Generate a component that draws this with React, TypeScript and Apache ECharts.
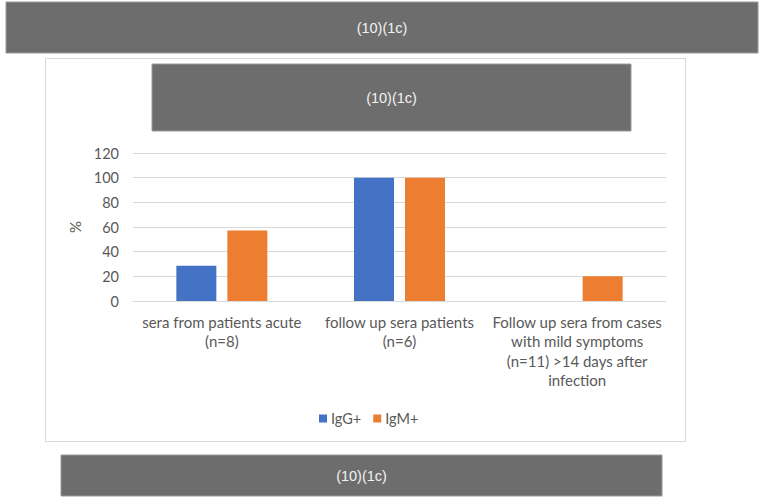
import React, { useEffect, useRef } from "react";
import * as echarts from "echarts";

const categories = [
  "sera from patients acute\n(n=8)",
  "follow up sera patients\n(n=6)",
  "Follow up sera from cases\nwith mild symptoms\n(n=11) >14 days after\ninfection",
];
const igG = [28.6, 100, 0];
const igM = [57.1, 100, 20];
const yTicks = { min: 0, max: 120, interval: 20 };
const bannerText = "(10)(1c)";

const FONT = "Lato, 'Open Sans', sans-serif";
const BANNER = "#6d6d6d";

export default function App() {
  const ref = useRef<HTMLDivElement>(null);

  useEffect(() => {
    if (!ref.current) return;
    const chart = echarts.init(ref.current, undefined, { renderer: "svg" });

    const banner = (x: number, y: number, w: number, h: number) => [
      {
        type: "rect",
        shape: { x, y, width: w, height: h },
        style: { fill: BANNER, stroke: "#9a9a9a", lineWidth: 1 },
        z: 1,
      },
      {
        type: "text",
        x: x + w / 2,
        y: y + h / 2,
        style: {
          text: bannerText,
          fill: "#f2f2f2",
          font: "14.5px 'Liberation Sans', Arial, sans-serif",
          align: "center",
          verticalAlign: "middle",
        },
        z: 2,
      },
    ];

    chart.setOption({
      animation: false,
      backgroundColor: "#ffffff",
      graphic: [
        {
          type: "rect",
          shape: { x: 45.5, y: 58.5, width: 640, height: 383 },
          style: { fill: "#ffffff", stroke: "#d9d9d9", lineWidth: 1 },
          z: -10,
          silent: true,
        },
        ...banner(6, 2, 752, 51),
        ...banner(152, 64, 479, 67),
        ...banner(61, 455, 601, 41),
      ],
      grid: { left: 133, right: 93, top: 153, bottom: 196, containLabel: false },
      legend: {
        data: ["IgG+", "IgM+"],
        left: 314,
        top: 406,
        itemWidth: 8,
        itemHeight: 8,
        itemGap: 12,
        icon: "rect",
        textStyle: { fontFamily: FONT, fontSize: 14.5, color: "#595959", padding: [0, 0, 0, -1] },
      },
      xAxis: {
        type: "category",
        data: categories,
        axisLine: { lineStyle: { color: "#d9d9d9" } },
        axisTick: { show: false },
        axisLabel: {
          interval: 0,
          margin: 11,
          fontFamily: FONT,
          fontSize: 15,
          lineHeight: 19.5,
          color: "#595959",
          align: "center",
        },
      },
      yAxis: {
        type: "value",
        min: yTicks.min,
        max: yTicks.max,
        interval: yTicks.interval,
        name: "%",
        nameLocation: "middle",
        nameGap: 50,
        nameRotate: 90,
        nameTextStyle: { fontFamily: FONT, fontSize: 15, color: "#595959" },
        axisLine: { show: false },
        axisTick: { show: false },
        splitLine: { lineStyle: { color: "#d9d9d9", width: 1 } },
        axisLabel: { fontFamily: FONT, fontSize: 14.5, color: "#595959", margin: 14 },
      },
      series: [
        {
          name: "IgG+",
          type: "bar",
          data: igG,
          barWidth: 40,
          barGap: "27.5%",
          itemStyle: { color: "#4472c4" },
        },
        {
          name: "IgM+",
          type: "bar",
          data: igM,
          barWidth: 40,
          barGap: "27.5%",
          itemStyle: { color: "#ed7d31" },
        },
      ],
    });

    return () => chart.dispose();
  }, []);

  return (
    <div
      ref={ref}
      style={{ position: "fixed", left: 0, top: 0, width: 759, height: 497, background: "#fff" }}
    />
  );
}
